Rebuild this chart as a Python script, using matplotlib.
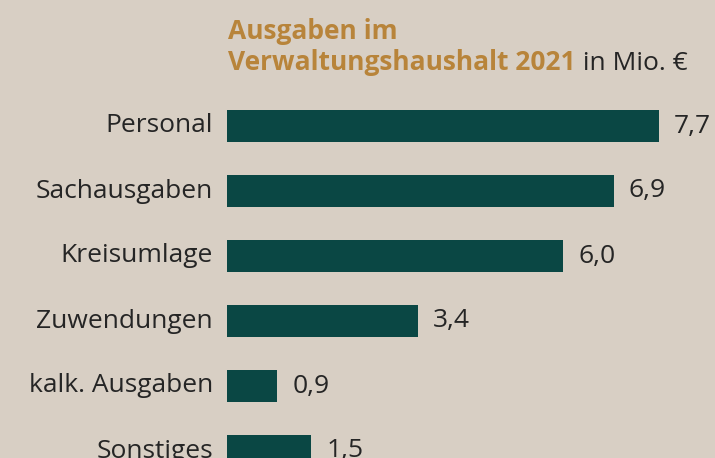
import matplotlib.pyplot as plt

plt.rcParams['font.family'] = ['Open Sans', 'DejaVu Sans']

categories = ['Personal', 'Sachausgaben', 'Kreisumlage', 'Zuwendungen', 'kalk. Ausgaben', 'Sonstiges']
values = [7.7, 6.9, 6.0, 3.4, 0.9, 1.5]
value_labels = ['7,7', '6,9', '6,0', '3,4', '0,9', '1,5']

bg = '#d8cfc4'
bar_col = '#0a4744'
gold = '#b8843a'
dark = '#252525'

W, H = 715, 458
fig = plt.figure(figsize=(W / 100, H / 100), dpi=100, facecolor=bg)

# axes placed so that x=0 sits at px 227 and rows are 65 px apart
top_px = 93.5
ax = fig.add_axes([227 / W, 0, 482 / W, (H - top_px) / H])
ax.set_facecolor(bg)

ypos = list(range(len(categories)))
ax.barh(ypos, values, height=0.5, color=bar_col)
ax.set_xlim(0, 8.6)
ax.set_ylim((H - 126) / 65, -0.5)

for y, v, lab in zip(ypos, values, value_labels):
    ax.annotate(lab, xy=(v, y), xytext=(11, 0), textcoords='offset points',
                va='center', ha='left', fontsize=19, color=dark)
    ax.annotate(categories[y], xy=(0, y), xytext=(-10, 0), textcoords='offset points',
                va='center', ha='right', fontsize=19, color=dark, annotation_clip=False)

ax.set_xticks([])
ax.set_yticks([])
for s in ax.spines.values():
    s.set_visible(False)

# title
fig.text(228 / W, 1 - 39 / H, 'Ausgaben im', fontsize=19, fontweight='bold',
         color=gold, ha='left', va='baseline')
t2 = fig.text(228 / W, 1 - 70 / H, 'Verwaltungshaushalt 2021', fontsize=19,
              fontweight='bold', color=gold, ha='left', va='baseline')
ax.annotate(' in Mio. €', xy=(1, 0), xycoords=t2, va='bottom', ha='left',
            fontsize=19, color=dark, annotation_clip=False)

fig.savefig('out.png', dpi=100, facecolor=bg)
